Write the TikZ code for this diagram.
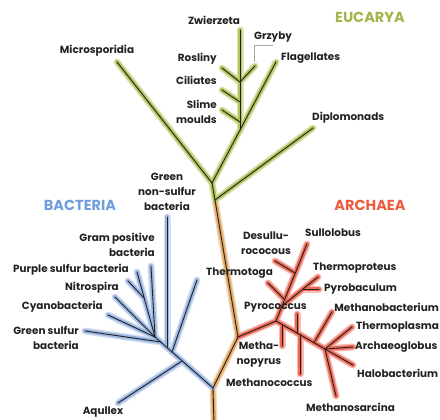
\documentclass[tikz,border=0pt]{standalone}
\usepackage{fontspec}
\setmainfont{Poppins}
\usetikzlibrary{calc}
\definecolor{ink}{HTML}{222222}
\definecolor{eukhalo}{HTML}{B5C35C}
\definecolor{bachalo}{HTML}{9BB6E2}
\definecolor{archalo}{HTML}{EE6A58}
\definecolor{trunkhalo}{HTML}{E3A862}
\definecolor{euktext}{HTML}{A6B24A}
\definecolor{bactext}{HTML}{6E9EDB}
\definecolor{arctext}{HTML}{EE5A3E}
\begin{document}
\begin{tikzpicture}[x=1pt,y=-1pt,
  lbl/.style={font=\bfseries\fontsize{10.4}{15}\selectfont, text=ink, inner sep=0pt},
  grp/.style={font=\bfseries\fontsize{14.5}{15}\selectfont, inner sep=0pt},
  haloout/.style={line width=7pt, line cap=round, draw=#1!45},
  haloin/.style={line width=4.2pt, line cap=round, draw=#1},
  core/.style={line width=0.9pt, draw=ink, line cap=round},
  leader/.style={line width=0.5pt, draw=gray!70}]
\useasboundingbox (0,0) rectangle (440,420);
% ---- trunk
\coordinate (bot) at (214,424);
\coordinate (jB) at (213,388);
\coordinate (jA) at (238,337);
\coordinate (jE2) at (215,200);
\coordinate (jE1) at (212,183);
% ---- eucarya
\coordinate (tMic) at (117,62);
\coordinate (tFla) at (276,62);
\coordinate (eS) at (240,130);
\coordinate (tZw) at (240,30);
\coordinate (eG) at (240,82);
\coordinate (tGr) at (255,66);
\coordinate (tRo) at (222,68);
\coordinate (eC) at (240,102);
\coordinate (tCi) at (222,90);
\coordinate (eSl) at (240,122);
\coordinate (tSl) at (222,110);
\coordinate (tDip) at (313,128);
\coordinate (gLead) at (254,62);
% ---- bacteria
\coordinate (bAq) at (182,361);
\coordinate (bTh) at (172,352);
\coordinate (bGn) at (167,347.5);
\coordinate (bGs) at (161,342);
\coordinate (bCl) at (155,337);
\coordinate (tAq) at (118,403);
\coordinate (tTh) at (197,280);
\coordinate (tGn) at (167,217);
\coordinate (tGp) at (151,266);
\coordinate (tPs2) at (137,272);
\coordinate (tPs1) at (128,281);
\coordinate (bPs) at (144,298);
\coordinate (tNi) at (115,297);
\coordinate (tCy) at (108,315);
\coordinate (tGs) at (85,331);
% ---- archaea
\coordinate (aJ) at (276,321);
\coordinate (tSul) at (307,244);
\coordinate (aDe) at (295,273);
\coordinate (tDe) at (275,261);
\coordinate (aTt) at (285,300);
\coordinate (tTt) at (268,283);
\coordinate (aTp) at (282,306);
\coordinate (tTp) at (318,277);
\coordinate (aPy) at (303,289);
\coordinate (tPb) at (319,289);
\coordinate (tHa) at (353,365);
\coordinate (aMp) at (282,324.5);
\coordinate (tMp) at (282,346);
\coordinate (aPc) at (297,333);
\coordinate (tPc) at (297,314);
\coordinate (aMc) at (300,334.7);
\coordinate (tMc) at (300,374);
\coordinate (aMb) at (314,342.7);
\coordinate (tMb) at (332,312);
\coordinate (aX) at (325,349);
\coordinate (tTpl) at (352,327);
\coordinate (tAr) at (353,347);
\coordinate (tMs) at (336,396);
\def\trunkL{bot/jB, jB/jA, jA/jE2}
\def\eukL{jE2/jE1, jE1/tMic, jE1/tFla, eS/tZw, eG/tGr, tRo/eG, tCi/eC, tSl/eSl, jE2/tDip}
\def\bacL{jB/bCl, bAq/tAq, bTh/tTh, bGn/tGn, bCl/tGp, bCl/tPs2, bPs/tPs1, bCl/tNi, bCl/tCy, bGs/tGs}
\def\arcL{jA/aJ, aJ/tSul, aDe/tDe, aTt/tTt, aTp/tTp, aPy/tPb, aJ/tHa, aMp/tMp, aPc/tPc, aMc/tMc, aMb/tMb, aX/tTpl, aX/tAr, aX/tMs}
% halos
\foreach \a/\b in \trunkL {\draw[haloout=trunkhalo] (\a) -- (\b);}
\foreach \a/\b in \eukL {\draw[haloout=eukhalo] (\a) -- (\b);}
\foreach \a/\b in \bacL {\draw[haloout=bachalo] (\a) -- (\b);}
\foreach \a/\b in \arcL {\draw[haloout=archalo] (\a) -- (\b);}
\foreach \a/\b in \trunkL {\draw[haloin=trunkhalo] (\a) -- (\b);}
\foreach \a/\b in \eukL {\draw[haloin=eukhalo] (\a) -- (\b);}
\foreach \a/\b in \bacL {\draw[haloin=bachalo] (\a) -- (\b);}
\foreach \a/\b in \arcL {\draw[haloin=archalo] (\a) -- (\b);}
% cores
\foreach \a/\b in \trunkL {\draw[core] (\a) -- (\b);}
\foreach \a/\b in \eukL {\draw[core] (\a) -- (\b);}
\foreach \a/\b in \bacL {\draw[core] (\a) -- (\b);}
\foreach \a/\b in \arcL {\draw[core] (\a) -- (\b);}
% ---- group titles
\node[grp, text=euktext] (gEuk) at (370,17) {EUCARYA};
\node[grp, text=bactext] (gBac) at (80,205) {BACTERIA};
\node[grp, text=arctext] (gArc) at (370,205) {ARCHAEA};
% ---- eucarya labels
\node[lbl] (lZw) at (214,20) {Zwierzeta};
\node[lbl, anchor=west] (lGr) at (254,37) {Grzyby};
\draw[leader] ($(lGr.south west)+(19,3)$) -- ($(lGr.south west)+(0,3)$) -- (gLead);
\node[lbl, anchor=east] (lRo) at (217,59) {Rosliny};
\node[lbl, anchor=east] (lCi) at (217,80) {Ciliates};
\node[lbl, anchor=east, align=right] (lSl) at (217,112) {Slime\\moulds};
\node[lbl, anchor=west] (lFl) at (281,58) {Flagellates};
\node[lbl] (lMi) at (97,51) {Microsporidia};
\node[lbl, anchor=west] (lDi) at (312,118) {Diplomonads};
% ---- bacteria labels
\node[lbl, align=center] (lGn) at (167,192) {Green\\non-sulfur\\bacteria};
\node[lbl, anchor=east, align=right] (lGp) at (155,244.5) {Gram positive\\bacteria};
\node[lbl, anchor=east] (lPs) at (129,270) {Purple sulfur bacteria};
\node[lbl, anchor=east] (lNi) at (119,288) {Nitrospira};
\node[lbl, anchor=east] (lCy) at (103,307) {Cyanobacteria};
\node[lbl, anchor=east, align=right] (lGs) at (79,337.5) {Green sulfur\\bacteria};
\node[lbl] (lAq) at (103,412) {Aqullex};
% ---- archaea labels
\node[lbl, align=center] (lDe) at (266,243) {Desullu-\\rococous};
\node[lbl, anchor=west] (lSu) at (305,233) {Sullolobus};
\node[lbl, anchor=west] (lTt) at (206,273) {Thermotoga};
\node[lbl, anchor=west] (lTp) at (313,268) {Thermoproteus};
\node[lbl, anchor=west] (lPb) at (324,289) {Pyrobaculum};
\node[lbl, anchor=west] (lPc) at (244,307) {Pyrococcus};
\node[lbl, anchor=east] (lMb) at (439,307) {Methanobacterium};
\node[lbl, anchor=west] (lTl) at (356,327) {Thermoplasma};
\node[lbl, anchor=west] (lAr) at (355,347) {Archaeoglobus};
\node[lbl, anchor=west] (lHa) at (357,373) {Halobacterium};
\node[lbl, align=center] (lMp) at (259,355) {Metha-\\nopyrus};
\node[lbl, anchor=west] (lMc) at (226,383) {Methanococcus};
\node[lbl, anchor=west] (lMs) at (306,407) {Methanosarcina};
\end{tikzpicture}
\end{document}
